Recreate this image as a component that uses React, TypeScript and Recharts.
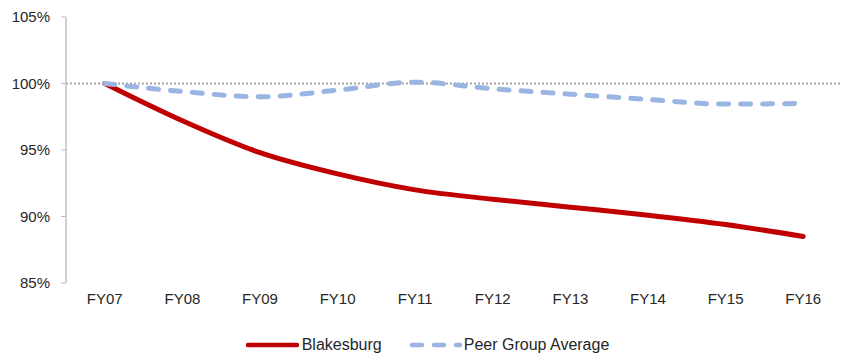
import React from "react";
import {
	LineChart,
	Line,
	XAxis,
	YAxis,
	ReferenceLine,
	Legend,
} from "recharts";

const years = ["FY07", "FY08", "FY09", "FY10", "FY11", "FY12", "FY13", "FY14", "FY15", "FY16"];
const blakesburg = [100, 97.2, 94.8, 93.2, 92.0, 91.3, 90.7, 90.1, 89.4, 88.5];
const peerAverage = [100, 99.4, 99.0, 99.5, 100.1, 99.6, 99.2, 98.8, 98.45, 98.5];
const yTicks = [85, 90, 95, 100, 105];

const data = years.map((year, i) => ({
	year,
	blakesburg: blakesburg[i],
	peer: peerAverage[i],
}));

const FONT = "'Liberation Sans', Arial, sans-serif";
const TEXT = "#262626";
const RED = "#C00000";
const BLUE = "#9BB5E3";

const ChartLegend = () => (
	<div
		style={{
			height: 42,
			width: 845,
			display: "flex",
			justifyContent: "center",
			alignItems: "flex-start",
			paddingTop: 23,
			paddingLeft: 10,
			boxSizing: "border-box",
			fontFamily: FONT,
			fontSize: 16,
			color: TEXT,
		}}
	>
		<div style={{ display: "flex", alignItems: "center", height: 18 }}>
			<svg width={53} height={10}>
				<line x1={2} y1={5} x2={51} y2={5} stroke={RED} strokeWidth={4.5} strokeLinecap="round" />
			</svg>
			<span style={{ marginLeft: 3 }}>Blakesburg</span>
		</div>
		<div style={{ display: "flex", alignItems: "center", height: 18, marginLeft: 27 }}>
			<svg width={53} height={10}>
				<line
					x1={3}
					y1={5}
					x2={51}
					y2={5}
					stroke={BLUE}
					strokeWidth={4.5}
					strokeLinecap="round"
					strokeDasharray="10 12"
				/>
			</svg>
			<span style={{ marginLeft: 2 }}>Peer Group Average</span>
		</div>
	</div>
);

const App = () => {
	return (
		<div style={{ position: "absolute", left: 0, top: 0 }}>
			<LineChart
				width={845}
				height={355}
				data={data}
				margin={{ top: 17, right: 3, bottom: 0, left: 0 }}
			>
				<XAxis
					dataKey="year"
					axisLine={false}
					tickLine={false}
					height={30}
					tickMargin={4}
					padding={{ left: 38.8, right: 38.8 }}
					tick={{ fill: TEXT, fontSize: 15, fontFamily: FONT }}
					interval={0}
				/>
				<YAxis
					width={66}
					domain={[85, 105]}
					ticks={yTicks}
					tickFormatter={(v: number) => `${v}%`}
					axisLine={{ stroke: "#BFBFBF", strokeWidth: 1.5 }}
					tickLine={{ stroke: "#BFBFBF", strokeWidth: 1 }}
					tickSize={5}
					tickMargin={11}
					tick={{ fill: TEXT, fontSize: 15, fontFamily: FONT }}
				/>
				<ReferenceLine y={100} stroke="#A6A6A6" strokeWidth={2} strokeDasharray="2 2" />
				<Line
					type="monotone"
					dataKey="blakesburg"
					name="Blakesburg"
					stroke={RED}
					strokeWidth={5}
					strokeLinecap="round"
					dot={false}
					activeDot={false}
					isAnimationActive={false}
				/>
				<Line
					type="monotone"
					dataKey="peer"
					name="Peer Group Average"
					stroke={BLUE}
					strokeWidth={5}
					strokeLinecap="round"
					strokeDasharray="10 12"
					dot={false}
					activeDot={false}
					isAnimationActive={false}
				/>
				<Legend verticalAlign="bottom" content={() => <ChartLegend />} />
			</LineChart>
		</div>
	);
};

export default App;
